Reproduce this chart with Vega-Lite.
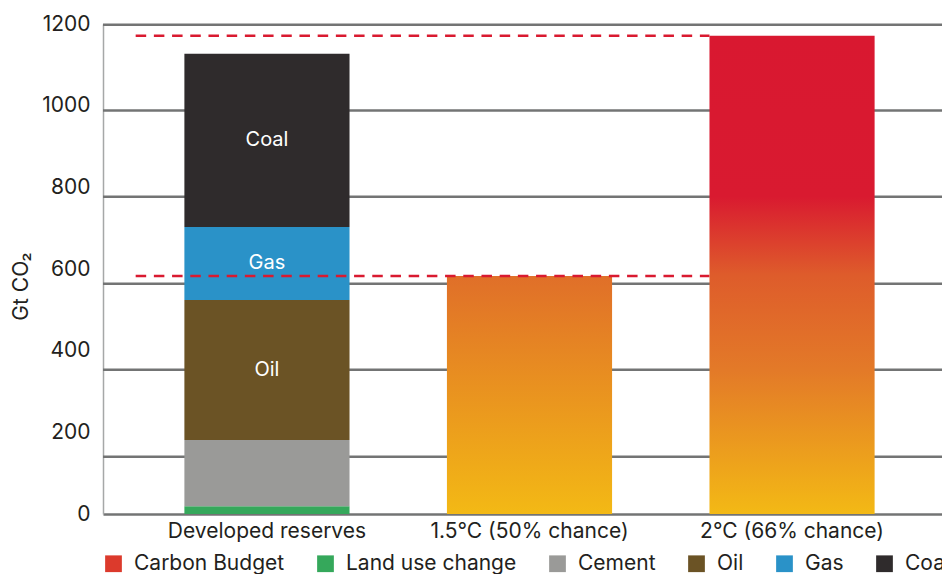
{
  "$schema": "https://vega.github.io/schema/vega-lite/v6.json",
  "width": 839,
  "height": 490,
  "autosize": {"type": "none"},
  "padding": {"left": 103, "top": 24, "right": 0, "bottom": 60},
  "background": "white",
  "config": {
    "view": {"stroke": null},
    "font": "Inter",
    "axisX": {"ticks": false, "domainColor": "#737474", "domainWidth": 2.5, "labelFontSize": 21, "labelColor": "#231f20", "labelPadding": 6, "labelAngle": 0, "zindex": 1, "labelFont": "Inter", "labelLimit": 0},
    "axisY": {"ticks": false, "grid": false, "domainColor": "#a6a8a8", "domainWidth": 1.5, "labelFontSize": 21, "labelColor": "#231f20", "labelPadding": 13, "titleFontSize": 21, "titleFontWeight": "normal", "titleColor": "#231f20", "titlePadding": 10, "labelFont": "Inter", "titleFont": "Inter"}
  },
  "datasets": {
    "reserves": [
      {"category": "Developed reserves", "source": "Land use change", "rank": 1, "value": 19},
      {"category": "Developed reserves", "source": "Cement", "rank": 2, "value": 162},
      {"category": "Developed reserves", "source": "Oil", "rank": 3, "value": 343},
      {"category": "Developed reserves", "source": "Gas", "rank": 4, "value": 179},
      {"category": "Developed reserves", "source": "Coal", "rank": 5, "value": 424}
    ],
    "budgets": [
      {"category": "1.5°C (50% chance)", "budget": 583, "from": "Developed reserves", "to": "2°C (66% chance)"},
      {"category": "2°C (66% chance)", "budget": 1171, "from": "Developed reserves", "to": "2°C (66% chance)"}
    ],
    "grid": [
      {"level": 140}, {"level": 353}, {"level": 564}, {"level": 777}, {"level": 988}, {"level": 1198}
    ]
  },
  "layer": [
    {
      "data": {"name": "grid"},
      "mark": {"type": "rule", "color": "#737474", "strokeWidth": 2.5},
      "encoding": {
        "y": {"field": "level", "type": "quantitative", "title": "Gt CO₂",
              "scale": {"domain": [0, 1200], "nice": false},
              "axis": {"values": [0, 200, 400, 600, 800, 1000, 1200], "format": "d", "title": "Gt CO₂", "titleFontSize": 21, "titleFontWeight": "normal", "titleY": 262}}
      }
    },
    {
      "data": {"name": "reserves"},
      "mark": {"type": "bar"},
      "encoding": {
        "x": {"field": "category", "type": "nominal", "title": null,
              "scale": {"domain": ["Developed reserves", "1.5°C (50% chance)", "2°C (66% chance)"], "range": [0, 853], "paddingInner": 0.371, "paddingOuter": 0.31}},
        "y": {"field": "value", "type": "quantitative", "stack": "zero", "title": "Gt CO₂"},
        "color": {"field": "source", "type": "nominal",
                  "scale": {"domain": ["Carbon Budget", "Land use change", "Cement", "Oil", "Gas", "Coal"],
                            "range": ["#dc3a2c", "#35a85b", "#9a9a98", "#6b5325", "#2a92c8", "#2f2b2c"]},
                  "legend": {"orient": "none", "legendX": 0, "legendY": 529, "direction": "horizontal", "columns": 6, "title": null,
                             "symbolType": "square", "symbolSize": 280, "symbolStrokeWidth": 0, "symbolOpacity": 1,
                             "labelFontSize": 21, "labelColor": "#231f20", "labelFont": "Inter", "labelLimit": 0, "columnPadding": 30, "labelOffset": 10, "padding": 0}},
        "order": {"field": "rank", "type": "quantitative"}
      }
    },
    {
      "data": {"name": "budgets"},
      "transform": [{"filter": "datum.category === '1.5°C (50% chance)'"}],
      "mark": {"type": "bar", "color": {"gradient": "linear", "x1": 0, "y1": 1, "x2": 0, "y2": 0,
               "stops": [{"offset": 0, "color": "#f3b915"}, {"offset": 1, "color": "#e06f29"}]}},
      "encoding": {
        "x": {"field": "category", "type": "nominal", "title": null},
        "y": {"field": "budget", "type": "quantitative", "title": "Gt CO₂"}
      }
    },
    {
      "data": {"name": "budgets"},
      "mark": {"type": "rule", "color": "#d91a30", "strokeWidth": 2.5, "strokeDash": [10.5, 7.7]},
      "encoding": {
        "x": {"field": "from", "type": "nominal", "bandPosition": -0.295, "title": null},
        "x2": {"field": "to", "bandPosition": 0},
        "y": {"field": "budget", "type": "quantitative", "title": "Gt CO₂"}
      }
    },
    {
      "data": {"name": "budgets"},
      "transform": [{"filter": "datum.category === '2°C (66% chance)'"}],
      "mark": {"type": "bar", "color": {"gradient": "linear", "x1": 0, "y1": 1, "x2": 0, "y2": 0,
               "stops": [{"offset": 0, "color": "#f3b915"}, {"offset": 0.3, "color": "#e37a28"}, {"offset": 0.5, "color": "#de5c2b"}, {"offset": 0.664, "color": "#d91a30"}, {"offset": 1, "color": "#d91830"}]}},
      "encoding": {
        "x": {"field": "category", "type": "nominal", "title": null},
        "y": {"field": "budget", "type": "quantitative", "title": "Gt CO₂"}
      }
    },
    {
      "data": {"name": "reserves"},
      "transform": [
        {"stack": "value", "groupby": ["category"], "sort": [{"field": "rank", "order": "ascending"}], "as": ["v0", "v1"]},
        {"calculate": "(datum.v0 + datum.v1) / 2", "as": "mid"},
        {"filter": "datum.source === 'Oil' || datum.source === 'Gas' || datum.source === 'Coal'"}
      ],
      "mark": {"type": "text", "color": "white", "fontSize": 20, "font": "Inter", "align": "center", "baseline": "middle"},
      "encoding": {
        "x": {"field": "category", "type": "nominal", "title": null},
        "y": {"field": "mid", "type": "quantitative", "title": "Gt CO₂"},
        "text": {"field": "source"}
      }
    }
  ]
}
